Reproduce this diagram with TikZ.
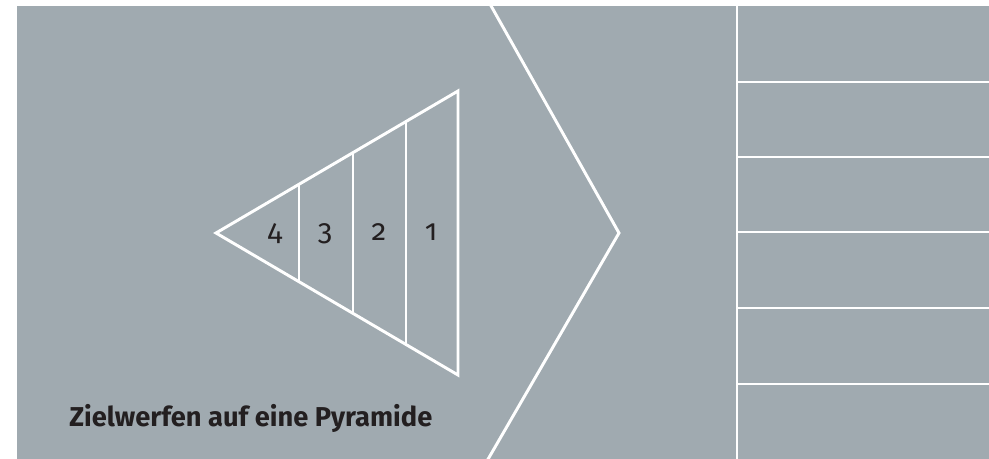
\documentclass[tikz,border=0pt]{standalone}
\usepackage{fontspec}
\setmainfont{Fira Sans}[Numbers=OldStyle]
\usetikzlibrary{calc}

\definecolor{panelgray}{HTML}{A0AAB0}
\definecolor{inkgray}{HTML}{231F20}

\begin{document}
\begin{tikzpicture}[x=0.025cm, y=-0.025cm,
whiteline/.style={draw=white, line width=2.1pt, line join=miter},
digit/.style={font=\fontsize{21}{24}\selectfont, text=inkgray, anchor=base, inner sep=0pt},
caption/.style={font=\fontsize{19.4}{23}\selectfont\bfseries, text=inkgray, anchor=base west, inner sep=0pt}
]

% Background
\fill[white] (0,0) rectangle (989,459);
\fill[panelgray] (17,6) rectangle (989,459);
\useasboundingbox (0,0) rectangle (989,459);

\begin{scope}
\clip (17,6) rectangle (989,459);

% Chevron
\coordinate (chev_top) at (490,4);
\coordinate (chev_tip) at (619,233);
\coordinate (chev_bottom) at (487,461);
\draw[whiteline] (chev_top) -- (chev_tip) -- (chev_bottom);

% Right column with rows
\coordinate (col_top) at (737,6);
\coordinate (col_bottom) at (737,459);
\draw[whiteline] (col_top) -- (col_bottom);
\foreach \y in {82,157,232,308,384}
  \draw[whiteline] (737,\y) -- (989,\y);
\end{scope}

% Pyramid
\coordinate (apex) at (216,233);
\coordinate (base_top) at (458,91);
\coordinate (base_bottom) at (458,375);
\draw[whiteline] (apex) -- (base_top) -- (base_bottom) -- cycle;
\foreach \x in {299,353,406}
  \draw[whiteline] ($(apex)!{(\x-216)/242}!(base_top)$) -- ($(apex)!{(\x-216)/242}!(base_bottom)$);

% Zone numbers
\node[digit] (zone4) at (275,241) {4};
\node[digit] (zone3) at (325,241) {3};
\node[digit] (zone2) at (379,241) {2};
\node[digit] (zone1) at (431,241) {1};

% Caption
\node[caption] (title) at (69,427) {Zielwerfen auf eine Pyramide};

\end{tikzpicture}
\end{document}
